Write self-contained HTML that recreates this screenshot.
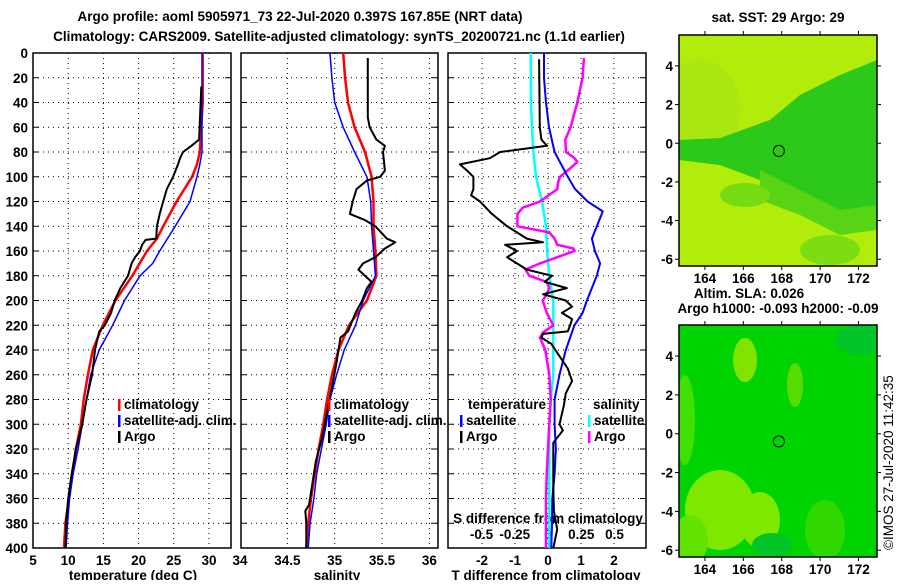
<!DOCTYPE html>
<html><head><meta charset="utf-8"><style>
body{margin:0;background:#fff;}
svg text{font-family:"Liberation Sans",sans-serif;font-weight:bold;font-size:13.5px;fill:#000;}
</style></head><body>
<svg id="root" width="900" height="580" xmlns="http://www.w3.org/2000/svg">
<text x="300" y="21" text-anchor="middle" font-size="15.5">Argo profile: aoml 5905971_73 22-Jul-2020 0.397S 167.85E (NRT data)</text>
<text x="339" y="41" text-anchor="middle" font-size="15.5">Climatology: CARS2009. Satellite-adjusted climatology: synTS_20200721.nc (1.1d earlier)</text>
<g id="maps"></g>
<g id="panels"></g>
<text transform="translate(893,550) rotate(-90)" style="font-weight:normal" font-size="12.5">©IMOS 27-Jul-2020 11:42:35</text>
</svg>
<script>
// ---- data ----
const depthTick=[0,20,40,60,80,100,120,140,160,180,200,220,240,260,280,300,320,340,360,380,400];
const climTdepth=[0,40,80,90,100,120,140,150,160,180,200,220,240,260,280,300,320,340,360,380,400];
const climT=[29.1,29.1,28.7,28.3,27.6,25.4,23.5,22.6,21.2,19.1,16.7,14.9,13.5,12.8,12.2,11.8,11.1,10.6,10.1,9.6,9.4];
const satTdepth=[0,80,90,100,120,140,160,170,180,200,220,240,260,280,300,320,340,360,380,400];
const satT=[29.0,29.0,28.7,28.3,27.3,25.2,23.0,22.0,20.2,18.0,16.3,14.4,13.2,12.6,12.0,11.4,10.7,10.2,9.9,9.7];
const argoTdepth=[27,70,75,80,85,90,100,110,120,130,140,150,151,155,160,165,170,180,190,200,210,220,225,240,260,270,280,300,320,340,360,380,400];
const argoT=[28.9,28.6,27.5,26.3,25.9,25.6,24.9,24.0,23.5,23.0,22.6,22.5,21.0,20.5,20.2,19.5,19.0,18.5,17.4,16.6,16.1,15.2,14.4,13.8,13.4,13.0,12.6,12.0,11.1,10.5,10.0,9.7,9.6];
const climSdepth=[0,20,40,60,80,100,120,140,160,180,200,220,240,260,280,300,320,340,360,380,400];
const climS=[35.09,35.11,35.14,35.21,35.32,35.39,35.41,35.41,35.43,35.44,35.34,35.15,35.04,34.97,34.92,34.88,34.83,34.79,34.75,34.72,34.70];
const satS=[34.95,34.97,35.00,35.09,35.21,35.34,35.38,35.39,35.41,35.43,35.30,35.22,35.10,35.02,34.95,34.91,34.86,34.81,34.78,34.74,34.72];
const argoSdepth=[4,52,60,70,75,80,95,100,103,110,120,130,135,140,150,153,158,165,170,175,180,185,190,200,210,225,230,250,270,290,310,330,350,365,370,380,400];
const argoS=[35.35,35.35,35.37,35.44,35.53,35.51,35.53,35.48,35.34,35.23,35.19,35.16,35.32,35.43,35.55,35.64,35.53,35.43,35.30,35.25,35.32,35.39,35.34,35.29,35.22,35.14,35.06,35.02,34.97,34.92,34.87,34.80,34.76,34.73,34.69,34.70,34.70];
const satDTdepth=[0,20,40,60,80,100,110,120,128,140,150,160,170,180,200,210,220,240,260,280,300,320,340,360,380,400];
const satDT=[-0.12,-0.12,-0.06,0.03,0.2,0.6,0.82,1.2,1.66,1.48,1.33,1.42,1.58,1.48,1.18,1.05,0.8,0.54,0.35,0.2,0.2,0.24,0.2,0.13,0.12,0.1];
const argoDTdepth=[5,60,70,75,80,85,90,95,100,110,115,120,130,140,150,153,155,160,165,175,180,185,190,195,200,205,210,215,220,225,227,230,235,245,255,265,275,285,300,305,315,330,350,370,385,400];
const argoDT=[-0.27,-0.25,-0.2,-0.03,-1.45,-1.76,-2.67,-2.45,-2.26,-2.26,-2.33,-2.06,-1.7,-1.24,-0.64,-0.15,-1.3,-0.94,-1.24,-0.64,0.12,-0.1,0.57,-0.15,0.54,0.73,0.42,0.73,0.67,0.6,-0.15,-0.2,0.1,0.35,0.6,0.73,0.54,0.48,0.35,0.45,0.16,0.16,0.16,0.18,0.28,0.16];
const satDSdepth=[0,40,60,80,100,120,140,160,180,200,220,260,280,300,400];
const satDS=[-0.13,-0.128,-0.12,-0.11,-0.09,-0.045,-0.015,-0.007,0.01,0.04,0.04,0.04,0.02,0.01,0.01];
const argoDSdepth=[4,20,40,60,70,80,85,88,92,100,105,110,120,125,130,140,145,150,155,158,160,165,170,175,180,185,190,195,200,210,220,226,230,240,260,280,300,320,340,360,400];
const argoDS=[0.27,0.26,0.22,0.17,0.13,0.135,0.2,0.22,0.18,0.09,0.075,0.07,-0.06,-0.19,-0.23,-0.23,0.01,0.05,0.07,0.19,0.2,0.07,-0.06,-0.17,-0.14,-0.01,0.01,-0.01,-0.04,-0.01,0.04,-0.04,-0.06,-0.02,0.01,0.02,0.01,0,-0.01,-0.015,-0.015];
const tTicks=[5,10,15,20,25,30];
const sTicks=[34,34.5,35,35.5,36];
const dtTicks=[-2,-1,0,1,2];
const dsTicks=[-0.5,-0.25,0,0.25,0.5];
const lonTicks=[164,166,168,170,172];
const latTicks=[4,2,0,-2,-4,-6];

const NS='http://www.w3.org/2000/svg';
function mk(tag,attrs,parent){const e=document.createElementNS(NS,tag);for(const k in attrs)e.setAttribute(k,attrs[k]);parent.appendChild(e);return e;}
const P=document.getElementById('panels');
const yD=d=>53+d*1.2375;
const xT=t=>33+(t-5)*7.04;
const xS=s=>240+(s-34)*94.7;
const xDT=t=>548+t*33;
const xDS=s=>548+s*133;
const panels=[{x0:33,x1:231,name:'temperature-panel'},{x0:241,x1:438,name:'salinity-panel'},{x0:448,x1:646,name:'difference-panel'}];
const gridX=[tTicks.slice(1).map(xT),sTicks.slice(1).map(xS),dtTicks.map(xDT)];
panels.forEach((p,i)=>{
  const g=mk('g',{},P);
  
  
  depthTick.slice(1,-1).forEach(d=>{const l=mk('line',{x1:p.x0,x2:p.x1,y1:yD(d),y2:yD(d),stroke:'#000','stroke-width':1,'stroke-dasharray':'1,4'},g);
    mk('line',{x1:p.x0,x2:p.x0+6,y1:yD(d),y2:yD(d),stroke:'#000'},g);mk('line',{x1:p.x1-6,x2:p.x1,y1:yD(d),y2:yD(d),stroke:'#000'},g);});
  gridX[i].forEach(x=>{if(x>p.x0+2&&x<p.x1-2){const l=mk('line',{x1:x,x2:x,y1:53,y2:548,stroke:'#000','stroke-dasharray':'1,4'},g);}});
  const r=mk('rect',{x:p.x0,y:53,width:p.x1-p.x0,height:495,fill:'none',stroke:'#000','stroke-width':1.5},g);
  
});
depthTick.forEach(d=>{const t=mk('text',{x:28,y:yD(d)+5,'text-anchor':'end','font-size':14},P);t.textContent=d;});
function txt(x,y,s,anchor,name){const t=mk('text',{x:x,y:y,'text-anchor':anchor||'middle'},P);t.textContent=s;return t;}
tTicks.forEach(v=>txt(xT(v),565,v,'middle','temperature-tick-label'));
sTicks.forEach(v=>txt(xS(v),565,v,'middle','salinity-tick-label'));
dtTicks.forEach(v=>txt(xDT(v),565,v,'middle','t-difference-tick-label'));
dsTicks.forEach(v=>txt(xDS(v),539,v,'middle','s-difference-tick-label'));
txt(133,580,'temperature (deg C)','middle','temperature-axis-title');
txt(337,580,'salinity','middle','salinity-axis-title');
txt(546,580,'T difference from climatology','middle','t-difference-axis-title');
txt(548,523,'S difference from climatology','middle','s-difference-axis-title');
function line(ds,vs,fx,color,w,name){const pts=ds.map((d,i)=>fx(vs[i]).toFixed(1)+','+yD(d).toFixed(1)).join(' ');const l=mk('polyline',{points:pts,fill:'none',stroke:color,'stroke-width':w,'stroke-linejoin':'round'},P);}
line(climTdepth,climT,xT,'#f00',2.5,'temperature-climatology-line');
line(satTdepth,satT,xT,'#00f',1.5,'temperature-satellite-line');
line(argoTdepth,argoT,xT,'#000',2,'temperature-argo-line');
line(climSdepth,climS,xS,'#f00',2.5,'salinity-climatology-line');
line(climSdepth,satS,xS,'#00f',1.5,'salinity-satellite-line');
line(argoSdepth,argoS,xS,'#000',2,'salinity-argo-line');
line(satDSdepth,satDS,xDS,'#0ff',2.5,'s-diff-satellite-line');
line(argoDSdepth,argoDS,xDS,'#f0f',2.5,'s-diff-argo-line');
line(satDTdepth,satDT,xDT,'#00f',2,'t-diff-satellite-line');
line(argoDTdepth,argoDT,xDT,'#000',2,'t-diff-argo-line');
function leg(x,y,color,label,name){const r=mk('rect',{x:x,y:y-10,width:2.5,height:12,fill:color},P);txt(x+6,y,label,'start',name);}
leg(118,409,'#f00','climatology','legend-climatology');
leg(118,425,'#00f','satellite-adj. clim.','legend-satellite');
leg(118,441,'#000','Argo','legend-argo');
leg(328,409,'#f00','climatology','legend-s-climatology');
leg(328,425,'#00f','satellite-adj. clim.','legend-s-satellite');
leg(328,441,'#000','Argo','legend-s-argo');
txt(468,409,'temperature','start','legend-temperature-heading');
leg(460,425,'#00f','satellite','legend-t-satellite');
leg(460,441,'#000','Argo','legend-t-argo');
txt(593,409,'salinity','start','legend-salinity-heading');
leg(588,425,'#0ff','satellite','legend-s-diff-satellite');
leg(588,441,'#f0f','Argo','legend-s-diff-argo');

// ---- maps ----
const M=document.getElementById('maps');
function map(y0,y1,name,bg,blobs,title){
  const g=mk('g',{},M);
  const x0=679,x1=877;const xL=l=>x0+(l-162.65)*19.2;const yL=a=>y0+(5.6-a)*((y1-y0)/11.95);
  const cid='c'+y0;const cp=mk('clipPath',{id:cid},g);mk('rect',{x:x0,y:y0,width:x1-x0,height:y1-y0},cp);
  const inner=mk('g',{'clip-path':'url(#'+cid+')'},g);
  mk('rect',{x:x0,y:y0,width:x1-x0,height:y1-y0,fill:bg},inner);
  blobs.forEach(b=>{if(b.pts)mk('polygon',{points:b.pts,fill:b.c},inner);else mk('ellipse',{cx:b.x,cy:b.y,rx:b.rx,ry:b.ry,fill:b.c},inner);});
  const c=mk('circle',{cx:xL(167.85),cy:yL(-0.397),r:5.5,fill:'none',stroke:'#000'},g);
  mk('rect',{x:x0,y:y0,width:x1-x0,height:y1-y0,fill:'none',stroke:'#000','stroke-width':1.5},g);
  lonTicks.forEach(l=>{mk('line',{x1:xL(l),x2:xL(l),y1:y0-4,y2:y0,stroke:'#000'},g);mk('line',{x1:xL(l),x2:xL(l),y1:y1,y2:y1+4,stroke:'#000'},g);const t=mk('text',{x:xL(l),y:y1+17,'text-anchor':'middle','font-size':14},g);t.textContent=l;});
  latTicks.forEach(a=>{mk('line',{x1:x0-4,x2:x0,y1:yL(a),y2:yL(a),stroke:'#000'},g);mk('line',{x1:x1,x2:x1+4,y1:yL(a),y2:yL(a),stroke:'#000'},g);const t=mk('text',{x:x0-6,y:yL(a)+5,'text-anchor':'end','font-size':14},g);t.textContent=a;});
  title.forEach(tt=>{const t=mk('text',{x:tt[0],y:tt[1],'text-anchor':'middle','font-size':14},g);t.textContent=tt[2];});
}
map(35,266,'sst-map','#b2ec0a',[
 {x:700,y:110,rx:40,ry:50,c:'#a8e810'},
 {pts:'679,140 720,138 770,120 800,95 840,75 877,60 877,205 850,215 820,200 790,190 760,180 720,165 679,160',c:'#2cc81a'},
 {pts:'760,170 800,190 840,210 877,205 877,230 840,235 800,215 760,200',c:'#58d414'},
 {x:745,y:195,rx:25,ry:12,c:'#74dc10'},
 {x:830,y:250,rx:30,ry:15,c:'#7cde12'}
],[[778,22,'sat. SST: 29 Argo: 29','sst-map-title'],[749,298,'Altim. SLA: 0.026','sla-label']]);
map(325,557,'sla-map','#00d400',[
 {x:685,y:420,rx:10,ry:45,c:'#40e000'},
 {x:720,y:510,rx:35,ry:40,c:'#7ee800'},
 {x:690,y:540,rx:18,ry:25,c:'#62e400'},
 {x:760,y:520,rx:20,ry:28,c:'#7ee800'},
 {x:745,y:360,rx:12,ry:22,c:'#80e400'},
 {x:795,y:385,rx:8,ry:22,c:'#58dc00'},
 {x:825,y:530,rx:20,ry:30,c:'#30d800'},
 {x:860,y:340,rx:25,ry:15,c:'#00c428'},
 {x:772,y:545,rx:20,ry:12,c:'#00c428'}
],[[778,313,'Argo h1000: -0.093 h2000: -0.09','argo-height-title']]);
</script>
</body></html>
